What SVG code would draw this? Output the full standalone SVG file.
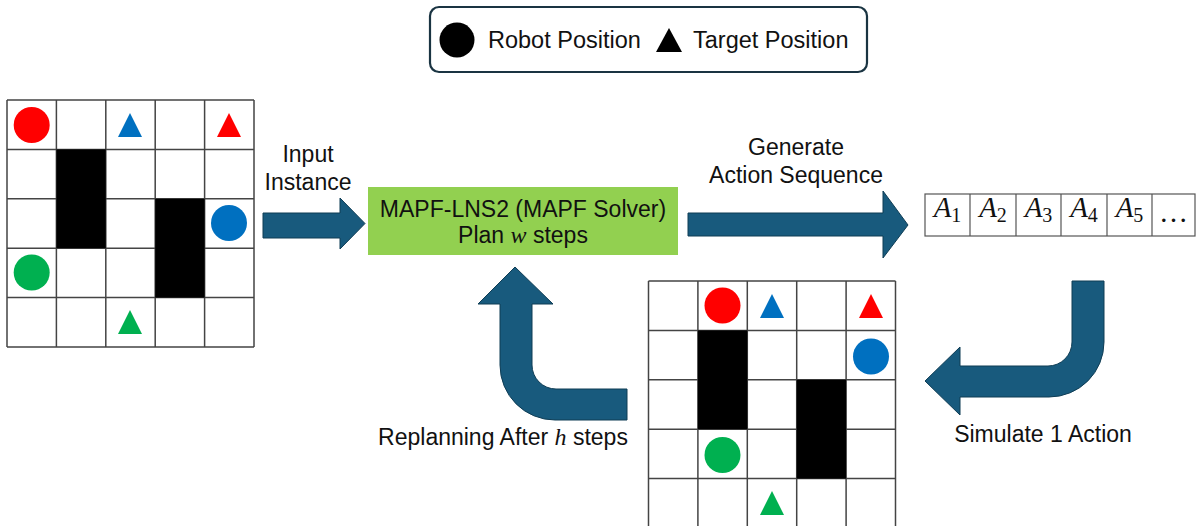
<svg xmlns="http://www.w3.org/2000/svg" width="1198" height="526" viewBox="0 0 1198 526">
<style>
.t{font-family:"Liberation Sans",Arial,sans-serif;font-size:23px;fill:#111}
.lg{font-size:23.5px}
.mi{font-family:"Liberation Serif","DejaVu Serif",serif;font-style:italic}
.obs{fill:#000}
.arrow{fill:#185a7d;stroke:#0f3d55;stroke-width:1}
.red{fill:#ff0000}.blue{fill:#0070c0}.green{fill:#00b050}
.seq{fill:#fff;stroke:#555;stroke-width:1.2}
.a{font-family:"Liberation Serif","DejaVu Serif",serif;font-size:29px;fill:#111}
</style>
<defs>
<g id="grid">
<rect x="0" y="0" width="247" height="247" fill="#fff"/>
<path d="M0 0H247M0 49.4H247M0 98.8H247M0 148.2H247M0 197.6H247M0 247H247M0 0V247M49.4 0V247M98.8 0V247M148.2 0V247M197.6 0V247M247 0V247" stroke="#444" stroke-width="1.5" fill="none"/>
</g>
<path id="tri" d="M0 -12L12 12H-12Z"/>
</defs>

<g id="legend">
<rect x="430" y="7" width="437" height="65" rx="9" fill="#fff" stroke="#1a3442" stroke-width="2.2"/>
<circle cx="457" cy="40" r="17.5" fill="#000"/>
<text class="t lg" x="488" y="48">Robot Position</text>
<path d="M669 28L682 52H656Z" fill="#000"/>
<text class="t lg" x="693" y="48">Target Position</text>
</g>

<g id="grid-initial">
<use href="#grid" x="7" y="100"/>
<rect class="obs" x="56.4" y="149.4" width="49.4" height="98.8"/>
<rect class="obs" x="155.2" y="198.8" width="49.4" height="98.8"/>
<circle class="red" cx="31.7" cy="125" r="18"/>
<use href="#tri" class="blue" x="130" y="125"/>
<use href="#tri" class="red" x="229" y="125"/>
<circle class="blue" cx="229" cy="223" r="18"/>
<circle class="green" cx="31.7" cy="272.5" r="18"/>
<use href="#tri" class="green" x="130" y="322"/>
</g>

<g id="solver">
<rect x="368" y="187" width="310" height="68" fill="#92d050"/>
<text class="t" x="523" y="216.5" text-anchor="middle">MAPF-LNS2 (MAPF Solver)</text>
<text class="t" x="523" y="243" text-anchor="middle">Plan <tspan class="mi" font-size="24">w</tspan> steps</text>
</g>

<g id="action-sequence">
<rect class="seq" x="925" y="194" width="270" height="42"/>
<path d="M970 194V236M1016 194V236M1061 194V236M1107 194V236M1152 194V236" stroke="#555" stroke-width="1.2"/>
<text class="a" x="947.5" y="217" text-anchor="middle"><tspan font-style="italic">A</tspan><tspan font-size="20" dy="5">1</tspan></text>
<text class="a" x="993" y="217" text-anchor="middle"><tspan font-style="italic">A</tspan><tspan font-size="20" dy="5">2</tspan></text>
<text class="a" x="1038.5" y="217" text-anchor="middle"><tspan font-style="italic">A</tspan><tspan font-size="20" dy="5">3</tspan></text>
<text class="a" x="1084" y="217" text-anchor="middle"><tspan font-style="italic">A</tspan><tspan font-size="20" dy="5">4</tspan></text>
<text class="a" x="1129.5" y="217" text-anchor="middle"><tspan font-style="italic">A</tspan><tspan font-size="20" dy="5">5</tspan></text>
<text class="a" x="1173.5" y="222" text-anchor="middle">…</text>
</g>

<g id="grid-simulated">
<use href="#grid" x="648.5" y="281"/>
<rect class="obs" x="697.9" y="330.4" width="49.4" height="98.8"/>
<rect class="obs" x="796.7" y="379.8" width="49.4" height="98.8"/>
<circle class="red" cx="722.5" cy="305.5" r="18"/>
<use href="#tri" class="blue" x="772" y="306"/>
<use href="#tri" class="red" x="871" y="306"/>
<circle class="blue" cx="871" cy="356.5" r="18"/>
<circle class="green" cx="722.5" cy="455" r="18"/>
<use href="#tri" class="green" x="772" y="503"/>
</g>

<g id="connectors">
<path class="arrow" d="M263 213H340V198L365 223.5L340 249V238H263Z"/>
<path class="arrow" d="M688 213H883V191L908 225L883 258V236H688Z"/>
<path class="arrow" d="M1072 281H1104V342A55 55 0 0 1 1049 397H960V415L925 381L960 347V366H1048A24 24 0 0 0 1072 342Z"/>
<path class="arrow" d="M627 389V420H555A55 55 0 0 1 500 365V304H478L515 267L553 304H532V365A24 24 0 0 0 556 389Z"/>
<text class="t" x="308" y="162" text-anchor="middle">Input</text>
<text class="t" x="308" y="190" text-anchor="middle">Instance</text>
<text class="t" x="796" y="155" text-anchor="middle">Generate</text>
<text class="t" x="796" y="183" text-anchor="middle">Action Sequence</text>
<text class="t" x="1043" y="442" text-anchor="middle">Simulate 1 Action</text>
<text class="t" x="503" y="445" text-anchor="middle">Replanning After <tspan class="mi" font-size="24">h</tspan> steps</text>
</g>
</svg>
